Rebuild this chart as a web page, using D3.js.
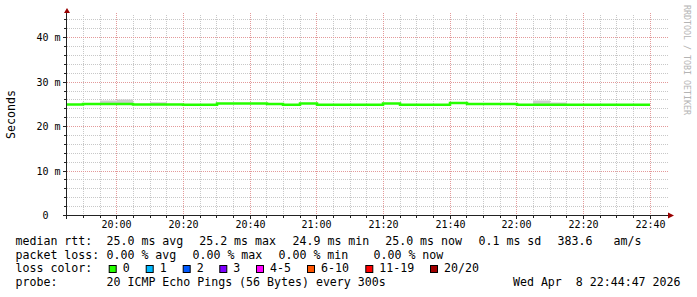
<!DOCTYPE html>
<html>
<head>
<meta charset="utf-8">
<script src="https://cdn.jsdelivr.net/npm/d3@7/dist/d3.min.js"></script>
<style>
body { margin: 0; background: #fff; }
svg text { font-family: "DejaVu Sans Mono", monospace; white-space: pre; fill: #000; }
</style>
</head>
<body>
<svg id="chart" width="697" height="297"></svg>
<script>

// 5 minute steps (start of each step), values in ms
var stepTimes = ["19:40","19:45","19:50","19:55","20:00","20:05","20:10","20:15","20:20","20:25",
	"20:30","20:35","20:40","20:45","20:50","20:55","21:00","21:05","21:10","21:15",
	"21:20","21:25","21:30","21:35","21:40","21:45","21:50","21:55","22:00","22:05",
	"22:10","22:15","22:20","22:25","22:30","22:35"];
var medianMs = [25.0,25.0,25.1,25.1,25.1,25.0,25.0,25.0,24.9,24.9,
	25.2,25.2,25.2,25.1,24.9,25.2,24.9,24.9,24.9,24.9,
	25.2,24.9,24.9,24.9,25.3,25.1,25.1,25.1,24.9,24.9,
	24.9,24.9,24.9,24.9,24.9,24.9];
var smokeMaxMs = [25.1,25.1,25.2,25.9,26.1,25.1,25.5,25.1,25.0,25.0,
	25.3,25.3,25.3,25.2,25.0,25.3,25.0,25.0,25.0,25.0,
	25.3,25.0,25.0,25.0,25.4,25.2,25.2,25.2,25.0,25.9,
	25.4,25.0,25.0,25.0,25.0,25.0];
var smokeMinMs = [24.9,24.9,25.0,25.0,25.0,24.9,24.9,24.9,24.8,24.8,
	25.1,25.1,25.1,25.0,24.8,25.1,24.8,24.8,24.8,24.8,
	25.1,24.8,24.8,24.8,25.2,25.0,25.0,25.0,24.8,24.8,
	24.8,24.8,24.8,24.8,24.8,24.8];

var yTicksMs = [0, 10, 20, 30, 40];

var rttValues = [25.0, 25.2, 24.9, 25.0];
var rttNames = ["avg", "max", "min", "now"];
var rttSd = 0.1;
var amPerS = 383.6;
var lossValues = [0.00, 0.00, 0.00, 0.00];
var lossNames = ["avg", "max", "min", "now"];
var lossLabels = ["0", "1", "2", "3", "4-5", "6-10", "11-19", "20/20"];
var lossColors = ["#26ff00", "#00b8ff", "#0059ff", "#7e00ff", "#ff00ff", "#ff5500", "#ff0000", "#a10000"];
var probeText = "20 ICMP Echo Pings (56 Bytes) every 300s";

// layout
var rttX = [106.5, 199.2, 292.5, 385.2, 478.5, 557.5, 613.5];
var lossX = [106.5, 192.5, 278.5, 373.5];
var boxX = [108.7, 145.7, 182.7, 219.3, 256, 307, 365.3, 430];
var rowY = [245, 258.5, 272, 285.5];

var endTime = new Date(2026, 3, 8, 22, 44, 47);
var startTime = new Date(+endTime - 3 * 3600 * 1000);
var parseTime = d3.timeParse("%Y-%m-%d %H:%M");

var data = stepTimes.map(function(t, i) {
	return { date: parseTime("2026-04-08 " + t), med: medianMs[i] / 1000,
		hi: smokeMaxMs[i] / 1000, lo: smokeMinMs[i] / 1000 };
});
// close the last step
var last = data[data.length - 1];
data.push({ date: d3.timeMinute.offset(last.date, 5), med: last.med, hi: last.hi, lo: last.lo });

var x = d3.scaleTime().domain([startTime, endTime]).range([66, 666]);
var y = d3.scaleLinear().domain([0, 0.045]).range([215.5, 15.5]);

function px(v) { return Math.floor(v) + 0.5; }
function py(v) { return Math.round(v - 0.5) + 0.5; }

var svg = d3.select("#chart");
svg.append("rect").attr("width", 697).attr("height", 297).attr("fill", "#fff");

var plot = svg.append("g");
plot.append("clipPath").attr("id", "clip")
	.append("rect").attr("x", 67).attr("y", 15).attr("width", 600).attr("height", 200);

// grid
var minorX = d3.timeMinute.every(5).range(startTime, endTime);
var majorX = d3.timeMinute.every(20).range(startTime, endTime);
var minorY = d3.range(2, 45, 2).filter(function(v) { return v % 10 !== 0; });

var grid = plot.append("g").attr("fill", "none").attr("stroke-width", 1).attr("stroke-dasharray", "1,1");

grid.selectAll(".gx").data(minorX.filter(function(d) { return d.getMinutes() % 20 !== 0; }))
	.enter().append("line")
	.attr("stroke", "#c8c8c8")
	.attr("x1", function(d) { return px(x(d)); })
	.attr("x2", function(d) { return px(x(d)); })
	.attr("y1", 15).attr("y2", 215);

grid.selectAll(".gy").data(minorY)
	.enter().append("line")
	.attr("stroke", "#c8c8c8")
	.attr("x1", 67).attr("x2", 669)
	.attr("y1", function(d) { return py(y(d / 1000)); })
	.attr("y2", function(d) { return py(y(d / 1000)); });

grid.selectAll(".gX").data(majorX)
	.enter().append("line")
	.attr("stroke", "#e39a9a")
	.attr("x1", function(d) { return px(x(d)); })
	.attr("x2", function(d) { return px(x(d)); })
	.attr("y1", 13).attr("y2", 215);

grid.selectAll(".gY").data(yTicksMs.slice(1))
	.enter().append("line")
	.attr("stroke", "#e39a9a")
	.attr("x1", 67).attr("x2", 669)
	.attr("y1", function(d) { return py(y(d / 1000)); })
	.attr("y2", function(d) { return py(y(d / 1000)); });

// smoke
var smoke = d3.area()
	.curve(d3.curveStepAfter)
	.x(function(d) { return Math.round(x(d.date)); })
	.y0(function(d) { return y(d.lo); })
	.y1(function(d) { return y(d.hi); });

plot.append("path")
	.datum(data)
	.attr("clip-path", "url(#clip)")
	.attr("fill", "#cdcdcd")
	.attr("d", smoke);

// median line
var line = d3.line()
	.curve(d3.curveStepAfter)
	.x(function(d) { return Math.round(x(d.date)); })
	.y(function(d) { return y(d.med); });

plot.append("path")
	.datum(data)
	.attr("clip-path", "url(#clip)")
	.attr("fill", "none")
	.attr("stroke", lossColors[0])
	.attr("stroke-width", 2.5)
	.attr("d", line);

// axes
var xAxis = d3.axisBottom(x).tickValues(majorX).tickSize(0).tickPadding(0)
	.tickFormat(d3.timeFormat("%H:%M"));
var gx = svg.append("g").attr("transform", "translate(0,215.5)").call(xAxis);
gx.select(".domain").remove();
gx.selectAll(".tick").attr("transform", function(d) { return "translate(" + px(x(d)) + ",0)"; });
gx.selectAll("text").attr("dy", null).attr("y", 12).attr("font-size", 10).attr("fill", "#000");

var yAxis = d3.axisLeft(y).tickValues(yTicksMs.map(function(v) { return v / 1000; }))
	.tickSize(0).tickPadding(6)
	.tickFormat(function(d) { return d === 0 ? "0  " : Math.round(d * 1000) + " m"; });
var gy = svg.append("g").attr("transform", "translate(66.5,0)").call(yAxis);
gy.select(".domain").remove();
gy.selectAll(".tick").attr("transform", function(d) { return "translate(0," + py(y(d)) + ")"; });
gy.selectAll("text").attr("dy", "0.36em").attr("font-size", 10).attr("fill", "#000");
gx.attr("font-family", null);
gy.attr("font-family", null);

// axis ticks
var ticks = svg.append("g").attr("stroke", "#222").attr("stroke-width", 1);
ticks.selectAll(".tx").data(minorX).enter().append("line")
	.attr("x1", function(d) { return px(x(d)); })
	.attr("x2", function(d) { return px(x(d)); })
	.attr("y1", 215).attr("y2", function(d) { return d.getMinutes() % 20 === 0 ? 219 : 218; });
ticks.selectAll(".ty").data(d3.range(2, 45, 2)).enter().append("line")
	.attr("y1", function(d) { return py(y(d / 1000)); })
	.attr("y2", function(d) { return py(y(d / 1000)); })
	.attr("x1", function(d) { return d % 10 === 0 ? 63 : 64; }).attr("x2", 67);

svg.append("line").attr("stroke", "#222")
	.attr("x1", 63).attr("x2", 669).attr("y1", 215.5).attr("y2", 215.5);
svg.append("line").attr("stroke", "#222")
	.attr("x1", 66.5).attr("x2", 66.5).attr("y1", 12).attr("y2", 219);
svg.append("path").attr("fill", "#900").attr("d", "M64,13L67,8L70,13Z");
svg.append("path").attr("fill", "#900").attr("d", "M668,212.5L674,215.5L668,218.5Z");

// axis title and watermark
svg.append("text")
	.attr("transform", "translate(14.5,114.5) rotate(-90)")
	.attr("text-anchor", "middle")
	.attr("font-size", 11.6)
	.text("Seconds");

svg.append("text")
	.attr("transform", "translate(684,60) rotate(90)")
	.attr("text-anchor", "middle")
	.attr("font-size", 8.3)
	.style("fill", "#b4b4b4")
	.text("RRDTOOL / TOBI OETIKER");

// legend
var legend = svg.append("g").attr("font-size", 11.6);

legend.append("text").attr("x", 15.5).attr("y", rowY[0]).text("median rtt:");
rttValues.forEach(function(v, i) {
	legend.append("text").attr("x", rttX[i]).attr("y", rowY[0])
		.text(v.toFixed(1) + " ms " + rttNames[i]);
});
legend.append("text").attr("x", rttX[4]).attr("y", rowY[0]).text(rttSd.toFixed(1) + " ms sd");
legend.append("text").attr("x", rttX[5]).attr("y", rowY[0]).text(amPerS.toFixed(1));
legend.append("text").attr("x", rttX[6]).attr("y", rowY[0]).text("am/s");

legend.append("text").attr("x", 15.5).attr("y", rowY[1]).text("packet loss:");
lossValues.forEach(function(v, i) {
	legend.append("text").attr("x", lossX[i]).attr("y", rowY[1])
		.text(v.toFixed(2) + " % " + lossNames[i]);
});

legend.append("text").attr("x", 15.5).attr("y", rowY[2]).text("loss color:");
lossLabels.forEach(function(lbl, i) {
	legend.append("rect")
		.attr("x", boxX[i] + 0.5).attr("y", 265.5)
		.attr("width", 7).attr("height", 7)
		.attr("fill", lossColors[i]).attr("stroke", "#000");
	legend.append("text").attr("x", boxX[i] + 14).attr("y", rowY[2]).text(lbl);
});

legend.append("text").attr("x", 15.5).attr("y", rowY[3]).text("probe:");
legend.append("text").attr("x", 106.5).attr("y", rowY[3]).text(probeText);
legend.append("text").attr("x", 680.5).attr("y", rowY[3]).attr("text-anchor", "end")
	.text(d3.timeFormat("%a %b %e %H:%M:%S %Y")(endTime));

</script>
</body>
</html>
